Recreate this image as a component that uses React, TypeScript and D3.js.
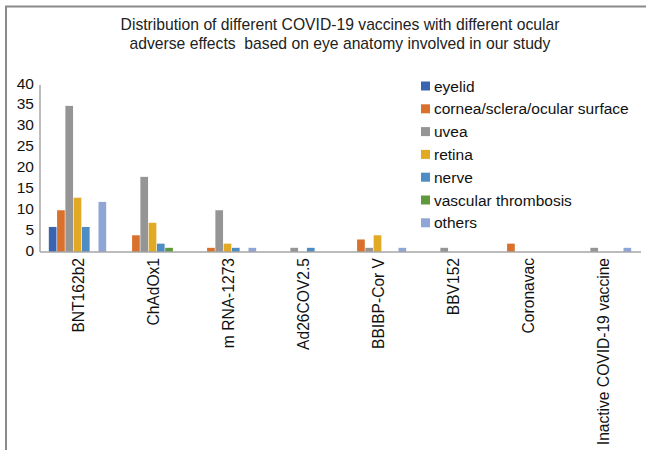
import React from "react";
import * as d3 from "d3";

const categories = [
  "BNT162b2",
  "ChAdOx1",
  "m RNA-1273",
  "Ad26COV2.5",
  "BBIBP-Cor V",
  "BBV152",
  "Coronavac",
  "Inactive COVID-19 vaccine",
];
const seriesNames = [
  "eyelid",
  "cornea/sclera/ocular surface",
  "uvea",
  "retina",
  "nerve",
  "vascular thrombosis",
  "others",
];
const eyelid = [6, 0, 0, 0, 0, 0, 0, 0];
const cornea = [10, 4, 1, 0, 3, 0, 2, 0];
const uvea = [35, 18, 10, 1, 1, 1, 0, 1];
const retina = [13, 7, 2, 0, 4, 0, 0, 0];
const nerve = [6, 2, 1, 1, 0, 0, 0, 0];
const vascular = [0, 1, 0, 0, 0, 0, 0, 0];
const others = [12, 0, 1, 0, 1, 0, 0, 1];
const seriesValues = [eyelid, cornea, uvea, retina, nerve, vascular, others];
const colors = ["#3B64B0", "#D9702B", "#959595", "#E2A924", "#4D8CC4", "#5E9A3C", "#8FA5D5"];
const yTicks = [0, 5, 10, 15, 20, 25, 30, 35, 40];
const titleLines = [
  "Distribution of different COVID-19 vaccines with different ocular",
  "adverse effects  based on eye anatomy involved in our study",
];

const W = 646;
const H = 450;
const FONT = "'Liberation Sans', Arial, sans-serif";

export default function App() {
  const x0 = d3
    .scaleBand<string>()
    .domain(categories)
    .range([40, 640])
    .paddingInner(0.227)
    .paddingOuter(0.1135);
  const x1 = d3
    .scaleBand<string>()
    .domain(seriesNames)
    .range([0, x0.bandwidth()]);
  const y = d3.scaleLinear().domain([0, 40]).range([252, 85]);

  return (
    <svg
      width={W}
      height={H}
      style={{ position: "absolute", left: 0, top: 0, background: "#fff" }}
      fontFamily={FONT}
    >
      <rect x={0} y={0} width={W} height={H} fill="#fff" />
      <rect x={6} y={6.5} width={720} height={520} fill="none" stroke="#8a8a8a" strokeWidth={2} />
      {titleLines.map((t, i) => (
        <text
          key={i}
          x={340}
          y={30 + i * 19}
          textAnchor="middle"
          fontSize={15.7}
          fill="#222"
          style={{ whiteSpace: "pre" }}
        >
          {t}
        </text>
      ))}
      {/* bars */}
      {categories.map((c, ci) => (
        <g key={c} transform={`translate(${x0(c)},0)`}>
          {seriesNames.map((s, si) => {
            const v = seriesValues[si][ci];
            if (!v) return null;
            return (
              <rect
                key={s}
                x={x1(s)! + 0.3}
                y={y(v)}
                width={x1.bandwidth() - 0.6}
                height={y(0) - y(v)}
                fill={colors[si]}
              />
            );
          })}
        </g>
      ))}
      {/* axes */}
      <line x1={40} x2={40} y1={y(40)} y2={y(0)} stroke="#a6a6a6" strokeWidth={1.5} />
      <line x1={40} x2={641} y1={y(0)} y2={y(0)} stroke="#a6a6a6" strokeWidth={1.5} />
      {yTicks.map((t) => (
        <text
          key={t}
          x={34}
          y={y(t) - 2}
          textAnchor="end"
          dominantBaseline="central"
          fontSize={15.5}
          fill="#111"
        >
          {t}
        </text>
      ))}
      {categories.map((c) => (
        <text
          key={c}
          transform={`translate(${x0(c)! + x0.bandwidth() / 2 + 1},258) rotate(-90)`}
          textAnchor="end"
          dominantBaseline="central"
          fontSize={15.6}
          fill="#111"
        >
          {c}
        </text>
      ))}
      {/* legend */}
      {seriesNames.map((s, i) => {
        const cy = 86 + i * 22.8;
        return (
          <g key={s}>
            <rect x={421} y={cy - 4.5} width={9} height={9} fill={colors[i]} />
            <text x={434} y={cy} dominantBaseline="central" fontSize={15.5} fill="#111">
              {s}
            </text>
          </g>
        );
      })}
    </svg>
  );
}
